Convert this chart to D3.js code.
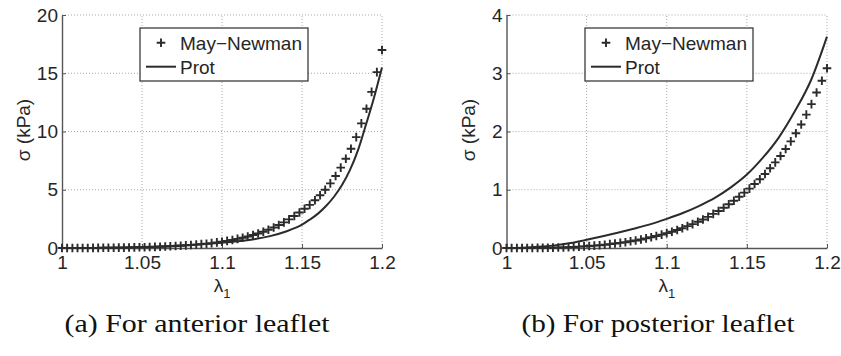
<!DOCTYPE html>
<html>
<head>
<meta charset="utf-8">
<script src="https://cdn.jsdelivr.net/npm/d3@7"></script>
<style>
  body { margin: 0; background: #fff; }
  svg { display: block; }
  .tick text { font-family: "Liberation Sans", Arial, Helvetica, sans-serif; font-size: 19px; fill: #262626; }
  .lab { font-family: "Liberation Sans", Arial, Helvetica, sans-serif; fill: #262626; }
  .caption { font-family: "Liberation Serif", "Times New Roman", serif; font-size: 26px; fill: #111; }
</style>
</head>
<body>
<svg id="chart" width="841" height="356"></svg>
<script>
// --- data ---
const stretch = [1.0000, 1.0032, 1.0065, 1.0097, 1.0129, 1.0161, 1.0194, 1.0226, 1.0258, 1.0290,
  1.0323, 1.0355, 1.0387, 1.0419, 1.0452, 1.0484, 1.0516, 1.0548, 1.0581, 1.0613,
  1.0645, 1.0677, 1.0710, 1.0742, 1.0774, 1.0806, 1.0839, 1.0871, 1.0903, 1.0935,
  1.0968, 1.1000, 1.1032, 1.1065, 1.1097, 1.1129, 1.1161, 1.1194, 1.1226, 1.1258,
  1.1290, 1.1323, 1.1355, 1.1387, 1.1419, 1.1452, 1.1484, 1.1516, 1.1548, 1.1581,
  1.1613, 1.1645, 1.1677, 1.1710, 1.1742, 1.1774, 1.1806, 1.1839, 1.1871, 1.1903,
  1.1935, 1.1968, 1.2000];

// May-Newman experimental points (kPa)
const antMN = [0, 0.0005, 0.001, 0.002, 0.004, 0.006, 0.009, 0.012, 0.016, 0.02,
  0.025, 0.03, 0.036, 0.043, 0.05, 0.06, 0.07, 0.082, 0.095, 0.11,
  0.13, 0.15, 0.17, 0.195, 0.225, 0.255, 0.29, 0.33, 0.37, 0.42,
  0.48, 0.54, 0.61, 0.69, 0.78, 0.88, 0.99, 1.11, 1.25, 1.40,
  1.57, 1.76, 1.97, 2.20, 2.46, 2.75, 3.05, 3.37, 3.70, 4.10,
  4.53, 5.00, 5.55, 6.18, 6.90, 7.66, 8.52, 9.52, 10.7, 11.95,
  13.4, 15.1, 17.0];
const postMN = [0, 0, 0.0001, 0.0003, 0.0005, 0.001, 0.002, 0.003, 0.004, 0.006,
  0.008, 0.011, 0.014, 0.018, 0.023, 0.028, 0.034, 0.04, 0.048, 0.056,
  0.066, 0.076, 0.088, 0.1, 0.115, 0.13, 0.145, 0.165, 0.185, 0.205,
  0.23, 0.255, 0.28, 0.31, 0.34, 0.375, 0.41, 0.45, 0.49, 0.535,
  0.585, 0.635, 0.69, 0.75, 0.81, 0.88, 0.95, 1.02, 1.10, 1.18,
  1.27, 1.37, 1.47, 1.58, 1.70, 1.83, 1.97, 2.12, 2.29, 2.47,
  2.67, 2.87, 3.085];

// Prot model curves (kPa)
const antProtX = [1.00, 1.01, 1.02, 1.03, 1.04, 1.05, 1.06, 1.07, 1.08, 1.09, 1.10, 1.11, 1.12,
  1.13, 1.14, 1.15, 1.155, 1.16, 1.165, 1.17, 1.175, 1.18, 1.185, 1.19, 1.195, 1.20];
const antProt = [0, 0.003, 0.01, 0.025, 0.05, 0.085, 0.13, 0.19, 0.26, 0.34, 0.44, 0.57, 0.75,
  1.02, 1.42, 2.0, 2.45, 2.95, 3.6, 4.4, 5.4, 6.7, 8.4, 10.6, 12.9, 15.5];
const postProtX = [1.00, 1.01, 1.02, 1.03, 1.04, 1.05, 1.06, 1.07, 1.08, 1.09, 1.10, 1.11, 1.12,
  1.13, 1.14, 1.15, 1.16, 1.17, 1.18, 1.19, 1.20];
const postProt = [0, 0.005, 0.02, 0.045, 0.085, 0.14, 0.2, 0.265, 0.335, 0.41, 0.5, 0.6, 0.72,
  0.86, 1.04, 1.26, 1.55, 1.9, 2.35, 2.88, 3.63];

const xTicks = [1, 1.05, 1.1, 1.15, 1.2];
const yTicksA = [0, 5, 10, 15, 20];
const yTicksB = [0, 1, 2, 3, 4];
const legendLabels = ["May\u2212Newman", "Prot"];
const captions = ["(a) For anterior leaflet", "(b) For posterior leaflet"];

const svg = d3.select("#chart");
svg.append("rect").attr("width", 841).attr("height", 356).attr("fill", "#fff");

const INK = "#2b2b2b";

function drawPanel(opt) {
  const x = d3.scaleLinear().domain([1, 1.2]).range([opt.left, opt.right]);
  const y = d3.scaleLinear().domain([0, opt.ymax]).range([248, 15]);
  const g = svg.append("g");

  // dotted grid (also forms top and right edges)
  g.selectAll(".gx").data(opt.xticks.slice(1)).enter().append("line")
    .attr("x1", d => x(d)).attr("x2", d => x(d))
    .attr("y1", y(0)).attr("y2", y(opt.ymax))
    .attr("stroke", "#a8a8a8").attr("stroke-width", 1).attr("stroke-dasharray", "1,2");
  g.selectAll(".gy").data(opt.yticks.slice(1)).enter().append("line")
    .attr("x1", x(1)).attr("x2", x(1.2))
    .attr("y1", d => y(d)).attr("y2", d => y(d))
    .attr("stroke", "#a8a8a8").attr("stroke-width", 1).attr("stroke-dasharray", "1,2");

  // axes, MATLAB style ticks pointing inward
  const ax = g.append("g").attr("transform", `translate(0,${y(0)})`)
    .call(d3.axisBottom(x).tickValues(opt.xticks).tickFormat(d3.format("~g"))
      .tickSize(-4).tickSizeOuter(0).tickPadding(8));
  const ay = g.append("g").attr("transform", `translate(${x(1)},0)`)
    .call(d3.axisLeft(y).tickValues(opt.yticks).tickFormat(d3.format("~g"))
      .tickSize(-4).tickSizeOuter(0).tickPadding(4));
  [ax, ay].forEach(a => {
    a.attr("font-family", null).attr("font-size", null);
    a.select(".domain").attr("stroke", "#555").attr("stroke-width", 1.4);
    a.selectAll(".tick line").attr("stroke", "#555");
  });

  // Prot curve
  const line = d3.line().x(d => x(d[0])).y(d => y(d[1])).curve(d3.curveMonotoneX);
  g.append("path").datum(d3.zip(opt.protX, opt.prot))
    .attr("d", line).attr("fill", "none").attr("stroke", INK).attr("stroke-width", 2);

  // May-Newman plus markers
  g.selectAll(".mk").data(d3.zip(stretch, opt.mn)).enter().append("path")
    .attr("transform", d => `translate(${x(d[0])},${y(d[1])})`)
    .attr("d", "M-4.3,0H4.3M0,-4.3V4.3")
    .attr("stroke", INK).attr("stroke-width", 1.9).attr("fill", "none");

  // axis labels
  const cx = (opt.left + opt.right) / 2;
  const xl = g.append("text").attr("class", "lab").attr("x", cx).attr("y", 292)
    .attr("text-anchor", "middle").attr("font-size", 19);
  xl.append("tspan").text("\u03bb");
  xl.append("tspan").attr("font-size", 13).attr("dy", 6).text("1");

  g.append("text").attr("class", "lab")
    .attr("transform", `translate(${opt.left - 32},130) rotate(-90)`)
    .attr("text-anchor", "middle").attr("font-size", 19).text("\u03c3 (kPa)");

  // legend
  const lg = g.append("g").attr("transform", `translate(${opt.legX},28)`);
  lg.append("rect").attr("width", 168).attr("height", 53)
    .attr("fill", "#fff").attr("stroke", INK).attr("stroke-width", 1.2);
  lg.append("path").attr("d", "M16.7,14.7H25.3M21,10.4V19")
    .attr("stroke", INK).attr("stroke-width", 1.9);
  lg.append("line").attr("x1", 6).attr("x2", 36).attr("y1", 38.7).attr("y2", 38.7)
    .attr("stroke", INK).attr("stroke-width", 2);
  lg.selectAll(".lt").data(legendLabels).enter().append("text")
    .attr("class", "lab").attr("x", 40).attr("y", (d, i) => 22 + i * 24)
    .attr("font-size", 19).text(d => d);

  // caption
  svg.append("text").attr("class", "caption").attr("x", opt.capX).attr("y", 332)
    .attr("text-anchor", "middle")
    .attr("textLength", opt.capW).attr("lengthAdjust", "spacingAndGlyphs")
    .text(opt.caption);
}

drawPanel({ left: 62, right: 382, ymax: 20, xticks: xTicks, yticks: yTicksA,
  mn: antMN, protX: antProtX, prot: antProt, legX: 140, capX: 197, capW: 265, caption: captions[0] });
drawPanel({ left: 506.5, right: 827, ymax: 4, xticks: xTicks, yticks: yTicksB,
  mn: postMN, protX: postProtX, prot: postProt, legX: 585, capX: 658, capW: 273, caption: captions[1] });
</script>
</body>
</html>
